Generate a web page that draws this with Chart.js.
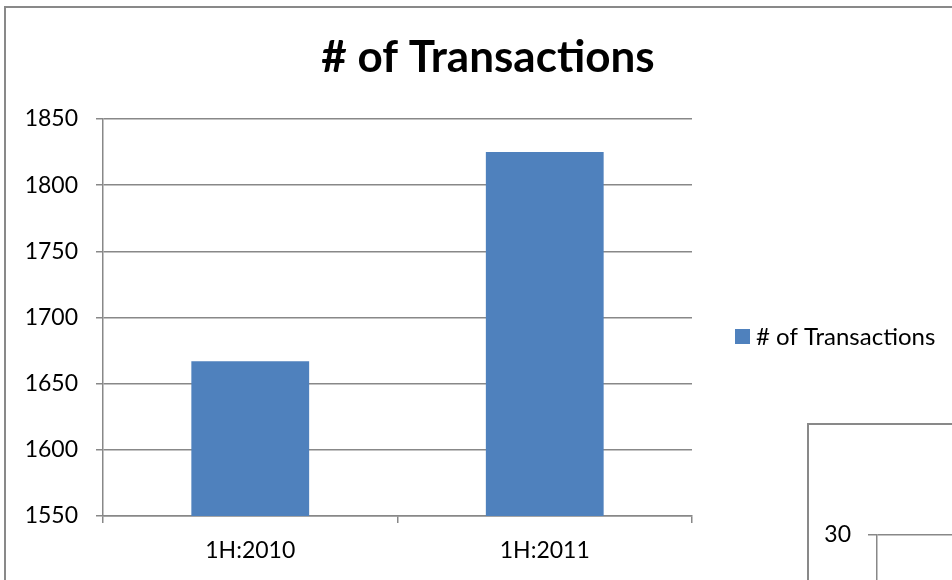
<!DOCTYPE html>
<html>
<head>
<meta charset="utf-8">
<script src="https://cdn.jsdelivr.net/npm/chart.js@4.4.1/dist/chart.umd.min.js"></script>
<style>
  html, body { margin: 0; padding: 0; background: #fff; overflow: hidden; }
  #stage { position: relative; width: 952px; height: 580px; overflow: hidden; }
  #frame { position: absolute; left: 4px; top: 6px; width: 1200px; height: 800px; border: 2px solid #898989; box-sizing: border-box; }
  #main { position: absolute; left: 0; top: 0; }
  #insetBox { position: absolute; left: 807px; top: 423px; width: 600px; height: 500px; border: 2px solid #898989; background: #fff; }
  #inset { position: absolute; left: 0; top: 0; }
</style>
</head>
<body>
<div id="stage">
  <div id="frame"></div>
  <canvas id="main" width="952" height="580"></canvas>
  <div id="insetBox"><canvas id="inset" width="600" height="480"></canvas></div>
</div>
<script>
// main chart data
const categories = ['1H:2010', '1H:2011'];
const transactions = [1667, 1825];
const yTicks = [1550, 1600, 1650, 1700, 1750, 1800, 1850];
const seriesLabel = '# of Transactions';

// second chart peeking in at the bottom right (only its top tick is visible)
const insetCategories = [];
const insetValues = [];
const insetTicks = [0, 10, 20, 30];

const GRID = '#888888';
const BAR = '#4F81BD';
const FONT = 'Lato, "Open Sans", sans-serif';

// title and legend are painted by hand so they can sit over the whole canvas
const titleAndLegend = {
  id: 'titleAndLegend',
  afterDraw(chart) {
    const ctx = chart.ctx;
    const ds = chart.data.datasets[0];
    ctx.save();
    ctx.fillStyle = '#000';
    ctx.font = 'bold 44px ' + FONT;
    ctx.textAlign = 'center';
    ctx.textBaseline = 'middle';
    ctx.fillText(seriesLabel, 488, 58);

    ctx.fillStyle = ds.backgroundColor;
    ctx.fillRect(735, 329, 15, 15);
    ctx.fillStyle = '#000';
    ctx.font = '24px ' + FONT;
    ctx.textAlign = 'left';
    ctx.fillText(ds.label, 756, 337);
    ctx.restore();
  }
};

new Chart(document.getElementById('main'), {
  type: 'bar',
  data: {
    labels: categories,
    datasets: [{ label: seriesLabel, data: transactions, backgroundColor: BAR, barPercentage: 0.4, categoryPercentage: 1 }]
  },
  options: {
    responsive: false,
    animation: false,
    layout: { padding: { left: 0, right: 260, top: 119, bottom: 0 } },
    plugins: {
      legend: { display: false },
      tooltip: { enabled: false },
      title: { display: false }
    },
    scales: {
      x: {
        grid: { drawOnChartArea: false, drawTicks: true, tickLength: 7, color: GRID, lineWidth: 1.5, offset: true },
        border: { color: GRID, width: 1.5 },
        ticks: { color: '#000', font: { family: FONT, size: 23 }, padding: 14 },
        afterFit: s => { s.height = 64; }
      },
      y: {
        min: yTicks[0],
        max: yTicks[yTicks.length - 1],
        ticks: {
          stepSize: yTicks[1] - yTicks[0],
          color: '#000',
          font: { family: FONT, size: 23 },
          padding: 18,
          callback: v => String(v)
        },
        grid: { color: GRID, lineWidth: 1.5, tickLength: 7 },
        border: { color: GRID, width: 1.5 },
        afterFit: s => { s.width = 103; }
      }
    }
  },
  plugins: [titleAndLegend]
});

new Chart(document.getElementById('inset'), {
  type: 'bar',
  data: { labels: insetCategories, datasets: [{ data: insetValues, backgroundColor: BAR }] },
  options: {
    responsive: false,
    animation: false,
    layout: { padding: { top: 110, left: 0, right: 0, bottom: 0 } },
    plugins: { legend: { display: false }, tooltip: { enabled: false } },
    scales: {
      x: { display: false },
      y: {
        min: insetTicks[0],
        max: insetTicks[insetTicks.length - 1],
        ticks: {
          stepSize: insetTicks[1] - insetTicks[0],
          color: '#000',
          font: { family: FONT, size: 23 },
          padding: 17,
          callback: v => String(v)
        },
        grid: { color: GRID, lineWidth: 1.5, tickLength: 9 },
        border: { color: GRID, width: 1.5 },
        afterFit: s => { s.width = 68; }
      }
    }
  }
});
</script>
</body>
</html>
